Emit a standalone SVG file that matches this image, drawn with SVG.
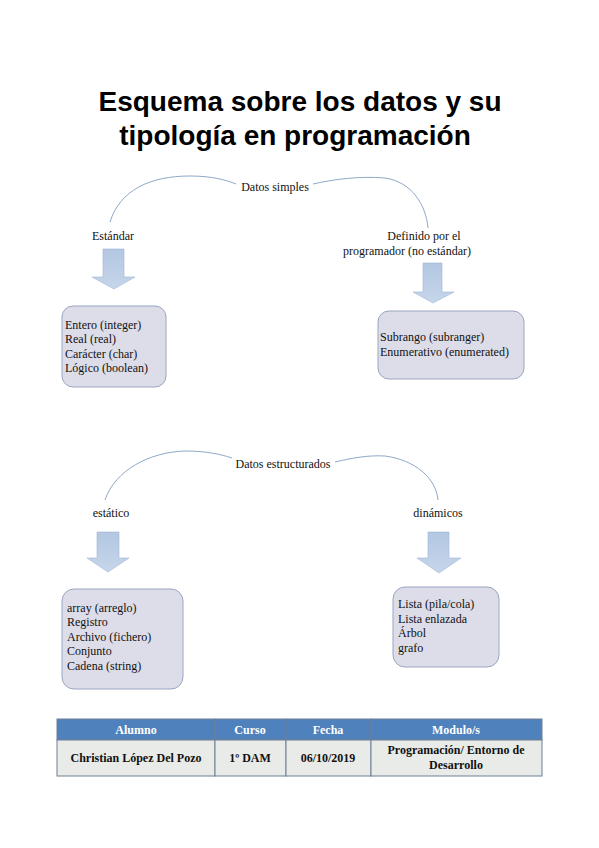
<svg xmlns="http://www.w3.org/2000/svg" width="599" height="848" viewBox="0 0 599 848">
<defs>
<linearGradient id="ag" x1="0" y1="0" x2="0" y2="1">
<stop offset="0" stop-color="#b3c7e2"/>
<stop offset="1" stop-color="#c6d6ea"/>
</linearGradient>
<style>
.title{font-family:"Liberation Sans",Arial,sans-serif;font-weight:bold;font-size:28px;fill:#000;text-anchor:middle}
.t{font-family:"Liberation Serif","Times New Roman",serif;font-size:12px;fill:#111}
.c{text-anchor:middle}
.box{fill:#dddde9;stroke:#9aa5c0;stroke-width:1}
.arrow{fill:url(#ag);stroke:#9fb6d6;stroke-width:0.6}
.curve{fill:none;stroke:#8fa8c8;stroke-width:1}
.th{font-family:"Liberation Serif","Times New Roman",serif;font-size:12px;font-weight:bold;fill:#fff;text-anchor:middle}
.td{font-family:"Liberation Serif","Times New Roman",serif;font-size:12px;font-weight:bold;fill:#111;text-anchor:middle}
.cell{stroke:#6f7f95;stroke-width:1}
</style>
</defs>
<rect width="599" height="848" fill="#fff"/>
<g id="title">
<text class="title" x="300" y="111">Esquema sobre los datos y su</text>
<text class="title" x="295" y="145">tipología en programación</text>
</g>
<g id="connectors">
<path class="curve" d="M110,222 C120,190 150,176 190,176 C212,176 226,180 236,184"/>
<path class="curve" d="M313,184 C335,179 360,176 385,178 C412,182 426,205 428,228"/>
<path class="curve" d="M105,500 C115,470 150,452 185,451 C205,451 220,454 232,458"/>
<path class="curve" d="M335,462 C352,458 368,455 385,456 C415,460 436,478 438,500"/>
<path class="arrow" d="M103,249 H124 V277 H135 L114,289 L92,277 H103 Z"/>
<path class="arrow" d="M423,263 H442 V292 H454 L433,303 L413,292 H423 Z"/>
<path class="arrow" d="M97,532 H119 V558 H129 L108,572 L87,558 H97 Z"/>
<path class="arrow" d="M428,532 H449 V558 H461 L439,573 L417,558 H428 Z"/>
</g>
<g id="datos-simples"><text class="t c" x="275" y="191">Datos simples</text></g>
<g id="estandar"><text class="t c" x="113" y="240">Estándar</text></g>
<g id="definido">
<text class="t c" x="424" y="240">Definido por el</text>
<text class="t c" x="407" y="255">programador (no estándar)</text>
</g>
<g id="box-estandar">
<rect class="box" x="62" y="306" width="104" height="81" rx="11"/>
<text class="t" x="65" y="329">Entero (integer)</text>
<text class="t" x="65" y="343">Real (real)</text>
<text class="t" x="65" y="358">Carácter (char)</text>
<text class="t" x="65" y="372">Lógico (boolean)</text>
</g>
<g id="box-definido">
<rect class="box" x="378" y="311" width="146" height="68" rx="11"/>
<text class="t" x="380" y="341">Subrango (subranger)</text>
<text class="t" x="380" y="356">Enumerativo (enumerated)</text>
</g>
<g id="datos-estructurados"><text class="t c" x="283" y="468">Datos estructurados</text></g>
<g id="estatico"><text class="t c" x="111" y="517">estático</text></g>
<g id="dinamicos"><text class="t c" x="438" y="517">dinámicos</text></g>
<g id="box-estatico">
<rect class="box" x="62" y="589" width="121" height="100" rx="12"/>
<text class="t" x="67" y="612">array (arreglo)</text>
<text class="t" x="67" y="626">Registro</text>
<text class="t" x="67" y="641">Archivo (fichero)</text>
<text class="t" x="67" y="655">Conjunto</text>
<text class="t" x="67" y="670">Cadena (string)</text>
</g>
<g id="box-dinamico">
<rect class="box" x="393" y="587" width="106" height="80" rx="12"/>
<text class="t" x="398" y="608">Lista (pila/cola)</text>
<text class="t" x="398" y="623">Lista enlazada</text>
<text class="t" x="398" y="637">Árbol</text>
<text class="t" x="398" y="652">grafo</text>
</g>
<g id="table">
<rect class="cell" x="57" y="719" width="158" height="21" fill="#4f81bd"/>
<rect class="cell" x="215" y="719" width="71" height="21" fill="#4f81bd"/>
<rect class="cell" x="286" y="719" width="85" height="21" fill="#4f81bd"/>
<rect class="cell" x="371" y="719" width="171" height="21" fill="#4f81bd"/>
<rect class="cell" x="57" y="740" width="158" height="36" fill="#e8ebe8"/>
<rect class="cell" x="215" y="740" width="71" height="36" fill="#e8ebe8"/>
<rect class="cell" x="286" y="740" width="85" height="36" fill="#e8ebe8"/>
<rect class="cell" x="371" y="740" width="171" height="36" fill="#e8ebe8"/>
<text class="th" x="136" y="734">Alumno</text>
<text class="th" x="250" y="734">Curso</text>
<text class="th" x="328" y="734">Fecha</text>
<text class="th" x="456" y="734">Modulo/s</text>
<text class="td" x="136" y="762">Christian López Del Pozo</text>
<text class="td" x="250" y="762">1º DAM</text>
<text class="td" x="328" y="762">06/10/2019</text>
<text class="td" x="456" y="754">Programación/ Entorno de</text>
<text class="td" x="456" y="769">Desarrollo</text>
</g>
</svg>
